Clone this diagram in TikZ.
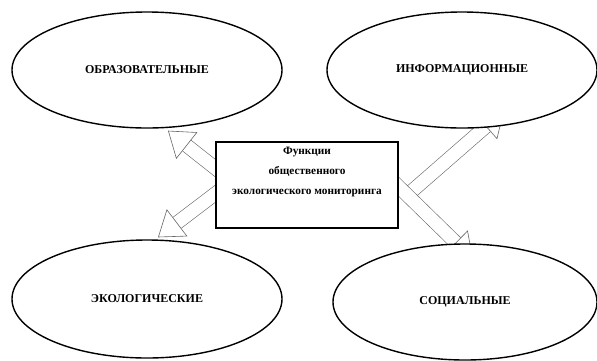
\documentclass[tikz,border=0pt]{standalone}
\usepackage{fontspec}
\setmainfont{Liberation Serif}
\usetikzlibrary{shapes.geometric,arrows.meta,backgrounds,calc}

\begin{document}
\begin{tikzpicture}[x=1pt,y=-1pt,
    func/.style={ellipse,draw,line width=1.4pt,fill=white,minimum width=270pt,minimum height=116pt,font=\fontsize{12}{14}\selectfont\bfseries},
    hollow/.style={draw=black!60,line width=0.6pt,double=white,double distance=13pt,
      -{Triangle[open,fill=white,width=34pt,length=24pt,line width=0.6pt]}}]
    \useasboundingbox (0,0) rectangle (597,360);

    % Central box
    \node[draw,line width=1.6pt,fill=white,minimum width=182pt,minimum height=86pt] (box) at (307,185) {};
    \node[align=center,font=\fontsize{11.3}{20}\selectfont\bfseries] (boxtext) at (307,172)
      {Функции\\общественного\\экологического мониторинга};

    % Four functions
    \node[func] (obr) at (147,70) {ОБРАЗОВАТЕЛЬНЫЕ};
    \node[func] (inf) at (462,70) {ИНФОРМАЦИОННЫЕ};
    \node[func,minimum height=118pt] (eco) at (147,299) {ЭКОЛОГИЧЕСКИЕ};
    \node[func,minimum width=264pt] (soc) at (465,302) {СОЦИАЛЬНЫЕ};

    % Hollow arrows (behind the shapes)
    \begin{scope}[on background layer]
      \draw[hollow] ($(box.west)+(5,-13)$) -- ($(obr.south)+(21,2)$);
      \draw[hollow] ($(box.west)+(5,5)$) -- ($(eco.north)+(11,-2)$);
      \draw[hollow] ($(box.east)+(12,7)$) -- ($(inf.south)+(42,-18)$);
      \draw[hollow] ($(box.east)+(-5,-3)$) -- ($(soc.north)+(8,16)$);
    \end{scope}
\end{tikzpicture}
\end{document}
